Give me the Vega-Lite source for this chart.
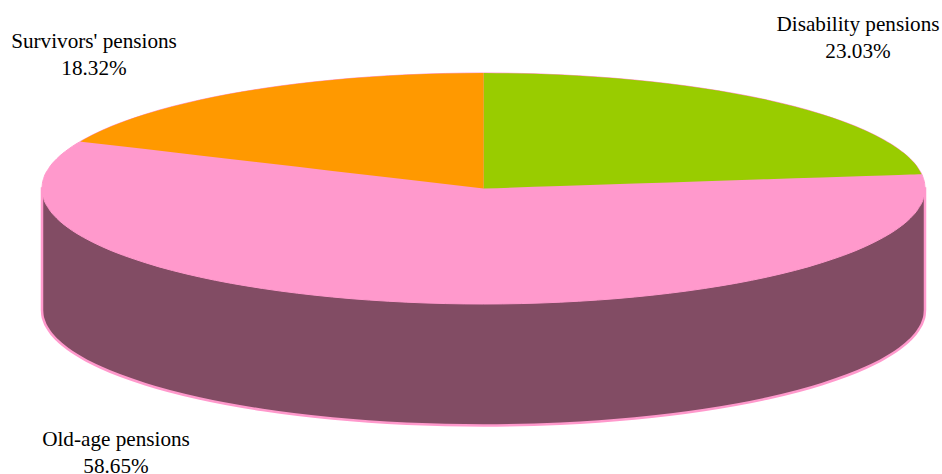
{"$schema":"https://vega.github.io/schema/vega-lite/v6.json","width":942,"height":474,"autosize":{"type":"none"},"padding":0,"background":"white","config":{"view":{"stroke":null}},
"datasets":{"pie":[
{"part":"side","x":42,"y":188.5,"y2":310},{"part":"side","x":42.4,"y":188.5,"y2":315.04},{"part":"side","x":43.7,"y":188.5,"y2":320.07},{"part":"side","x":48.7,"y":188.5,"y2":330.05},{"part":"side","x":57,"y":188.5,"y2":339.9},{"part":"side","x":68.6,"y":188.5,"y2":349.5},{"part":"side","x":83.4,"y":188.5,"y2":358.8},{"part":"side","x":101.2,"y":188.5,"y2":367.75},{"part":"side","x":145.3,"y":188.5,"y2":384.2},{"part":"side","x":199.7,"y":188.5,"y2":398.5},{"part":"side","x":262.75,"y":188.5,"y2":410},{"part":"side","x":332.5,"y":188.5,"y2":418.5},{"part":"side","x":406.8,"y":188.5,"y2":423.7},{"part":"side","x":483.5,"y":188.5,"y2":425.5},{"part":"side","x":560.2,"y":188.5,"y2":423.7},{"part":"side","x":634.5,"y":188.5,"y2":418.5},{"part":"side","x":704.25,"y":188.5,"y2":410},{"part":"side","x":767.3,"y":188.5,"y2":398.5},{"part":"side","x":821.7,"y":188.5,"y2":384.2},{"part":"side","x":865.8,"y":188.5,"y2":367.75},{"part":"side","x":883.6,"y":188.5,"y2":358.8},{"part":"side","x":898.4,"y":188.5,"y2":349.5},{"part":"side","x":910,"y":188.5,"y2":339.9},{"part":"side","x":918.3,"y":188.5,"y2":330.05},{"part":"side","x":923.3,"y":188.5,"y2":320.07},{"part":"side","x":924.6,"y":188.5,"y2":315.04},{"part":"side","x":925,"y":188.5,"y2":310},
{"part":"Old-age pensions","x":42,"y":188.5,"y2":188.5},{"part":"Old-age pensions","x":42.4,"y":183.46,"y2":193.54},{"part":"Old-age pensions","x":43.7,"y":178.43,"y2":198.57},{"part":"Old-age pensions","x":48.7,"y":168.45,"y2":208.55},{"part":"Old-age pensions","x":57,"y":158.6,"y2":218.4},{"part":"Old-age pensions","x":68.6,"y":149,"y2":228},{"part":"Old-age pensions","x":83.4,"y":139.7,"y2":237.3},{"part":"Old-age pensions","x":101.2,"y":130.75,"y2":246.25},{"part":"Old-age pensions","x":145.3,"y":114.3,"y2":262.7},{"part":"Old-age pensions","x":199.7,"y":100,"y2":277},{"part":"Old-age pensions","x":262.75,"y":88.5,"y2":288.5},{"part":"Old-age pensions","x":332.5,"y":80,"y2":297},{"part":"Old-age pensions","x":406.8,"y":74.8,"y2":302.2},{"part":"Old-age pensions","x":483.5,"y":73,"y2":304},{"part":"Old-age pensions","x":560.2,"y":74.8,"y2":302.2},{"part":"Old-age pensions","x":634.5,"y":80,"y2":297},{"part":"Old-age pensions","x":704.25,"y":88.5,"y2":288.5},{"part":"Old-age pensions","x":767.3,"y":100,"y2":277},{"part":"Old-age pensions","x":821.7,"y":114.3,"y2":262.7},{"part":"Old-age pensions","x":865.8,"y":130.75,"y2":246.25},{"part":"Old-age pensions","x":883.6,"y":139.7,"y2":237.3},{"part":"Old-age pensions","x":898.4,"y":149,"y2":228},{"part":"Old-age pensions","x":910,"y":158.6,"y2":218.4},{"part":"Old-age pensions","x":918.3,"y":168.45,"y2":208.55},{"part":"Old-age pensions","x":923.3,"y":178.43,"y2":198.57},{"part":"Old-age pensions","x":924.6,"y":183.46,"y2":193.54},{"part":"Old-age pensions","x":925,"y":188.5,"y2":188.5},
{"part":"Disability pensions","x":483.5,"y":73,"y2":188.5},{"part":"Disability pensions","x":560.2,"y":74.8,"y2":186},{"part":"Disability pensions","x":634.5,"y":80,"y2":183.6},{"part":"Disability pensions","x":704.25,"y":88.5,"y2":181.3},{"part":"Disability pensions","x":767.3,"y":100,"y2":179.2},{"part":"Disability pensions","x":821.7,"y":114.3,"y2":177.5},{"part":"Disability pensions","x":865.8,"y":130.75,"y2":176},{"part":"Disability pensions","x":883.6,"y":139.7,"y2":175.4},{"part":"Disability pensions","x":898.4,"y":149,"y2":175},{"part":"Disability pensions","x":910,"y":158.6,"y2":174.6},{"part":"Disability pensions","x":918.3,"y":168.45,"y2":174.3},{"part":"Disability pensions","x":921.6,"y":174.2,"y2":174.2},
{"part":"Survivors' pensions","x":80.3,"y":141.5,"y2":141.5},{"part":"Survivors' pensions","x":83.4,"y":139.7,"y2":141.9},{"part":"Survivors' pensions","x":101.2,"y":130.75,"y2":143.9},{"part":"Survivors' pensions","x":145.3,"y":114.3,"y2":149.1},{"part":"Survivors' pensions","x":199.7,"y":100,"y2":155.4},{"part":"Survivors' pensions","x":262.75,"y":88.5,"y2":162.8},{"part":"Survivors' pensions","x":332.5,"y":80,"y2":170.9},{"part":"Survivors' pensions","x":406.8,"y":74.8,"y2":179.6},{"part":"Survivors' pensions","x":483.5,"y":73,"y2":188.5}
],
"labels":[
{"label":"Disability pensions\n23.03%","x":858,"y":13.5},
{"label":"Survivors' pensions\n18.32%","x":94,"y":30.5},
{"label":"Old-age pensions\n58.65%","x":116,"y":428.5}
]},
"encoding":{
"x":{"field":"x","type":"quantitative","scale":{"domain":[0,942]},"axis":null},
"y":{"field":"y","type":"quantitative","scale":{"domain":[474,0]},"axis":null}
},
"layer":[
{"data":{"name":"pie"},"transform":[{"filter":"datum.part==='side'"}],"mark":{"type":"area","interpolate":"monotone","fill":"#824c64","stroke":"#ff99cc","strokeWidth":2.5},"encoding":{"y2":{"field":"y2"}}},
{"data":{"name":"pie"},"transform":[{"filter":"datum.part==='Old-age pensions'"}],"mark":{"type":"area","interpolate":"monotone","fill":"#ff99cc","stroke":"#ff99cc","strokeWidth":1},"encoding":{"y2":{"field":"y2"}}},
{"data":{"name":"pie"},"transform":[{"filter":"datum.part==='Disability pensions'"}],"mark":{"type":"area","interpolate":"monotone","fill":"#99cc00"},"encoding":{"y2":{"field":"y2"}}},
{"data":{"name":"pie"},"transform":[{"filter":"datum.part==='Survivors\\' pensions'"}],"mark":{"type":"area","interpolate":"monotone","fill":"#ff9900"},"encoding":{"y2":{"field":"y2"}}},
{"data":{"name":"labels"},"mark":{"type":"text","font":"Liberation Serif","fontSize":21.2,"align":"center","baseline":"top","lineHeight":27,"lineBreak":"\n","color":"#000000"},"encoding":{"text":{"field":"label"}}}
]}
